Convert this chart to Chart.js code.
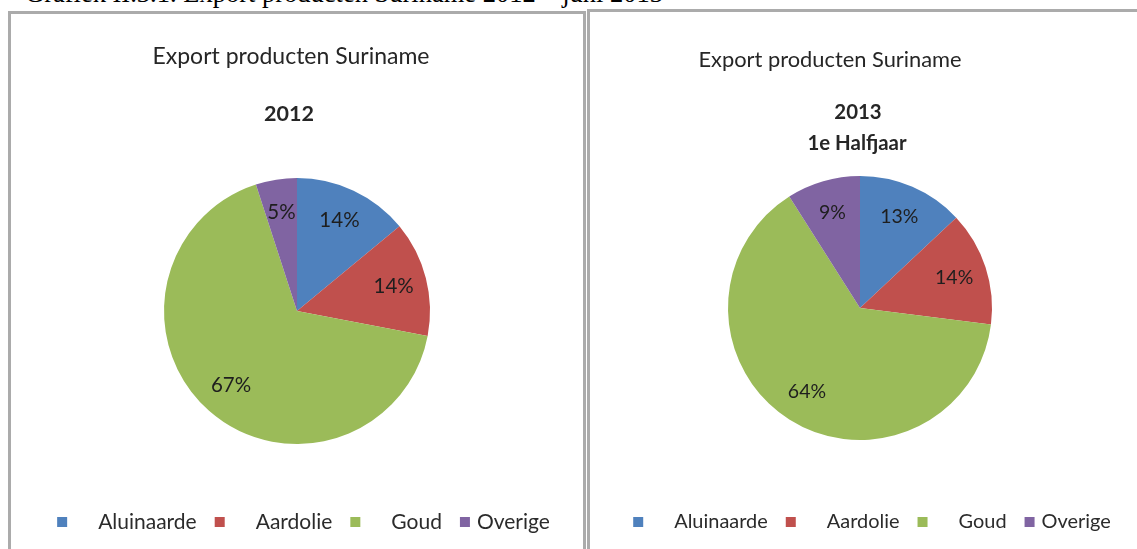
<!DOCTYPE html>
<html>
<head>
<meta charset="utf-8">
<script src="https://cdn.jsdelivr.net/npm/chart.js@4.4.1/dist/chart.umd.min.js"></script>
<style>
	body { margin: 0; background: #fff; overflow: hidden; width: 1137px; height: 549px; position: relative; }
	.caption { position: absolute; left: 25px; top: -22px; font: 26.5px "Liberation Serif", "Times New Roman", serif; color: #000; white-space: nowrap; }
	.panel { position: absolute; border: 3px solid #ababab; box-sizing: border-box; background: #fff; }
	#p1 { left: 8px; top: 11px; width: 578px; height: 560px; }
	#p2 { left: 587px; top: 9px; width: 560px; height: 560px; }
	.panel canvas { display: block; }
</style>
</head>
<body>
<div class="caption">Grafiek II.3.1. Export producten Suriname 2012 – juni 2013</div>
<div class="panel" id="p1"><canvas id="c1"></canvas></div>
<div class="panel" id="p2"><canvas id="c2"></canvas></div>
<script>
const categories = ['Aluinaarde', 'Aardolie', 'Goud', 'Overige'];
const values2012 = [14, 14, 67, 5];
const values2013 = [13, 14, 64, 9];
const colors = ['#4F81BD', '#C0504D', '#9BBB59', '#8064A2'];
const title2012 = ['Export producten Suriname', '2012'];
const title2013 = ['Export producten Suriname', '2013', '1e Halfjaar'];

const FONT = 'Lato, Carlito, Calibri, sans-serif';

// percent labels inside the slices
const sliceLabels = {
	id: 'sliceLabels',
	afterDatasetsDraw(chart, args, opts) {
		const ctx = chart.ctx;
		const data = chart.data.datasets[0].data;
		ctx.save();
		ctx.font = opts.size + 'px ' + FONT;
		ctx.fillStyle = '#1e1e1e';
		ctx.textAlign = 'center';
		ctx.textBaseline = 'middle';
		chart.getDatasetMeta(0).data.forEach((arc, i) => {
			const p = arc.getProps(['x', 'y', 'startAngle', 'endAngle', 'outerRadius'], true);
			const mid = (p.startAngle + p.endAngle) / 2;
			const r = p.outerRadius * 0.75;
			ctx.fillText(data[i] + '%', p.x + Math.cos(mid) * r, p.y + Math.sin(mid) * r);
		});
		ctx.restore();
	}
};

// titles placed like the Excel originals
const panelTitles = {
	id: 'panelTitles',
	afterDraw(chart, args, opts) {
		const ctx = chart.ctx;
		ctx.save();
		ctx.fillStyle = '#262626';
		ctx.textAlign = 'center';
		ctx.textBaseline = 'middle';
		opts.lines.forEach((text, i) => {
			const pos = opts.pos[i];
			ctx.font = i === 0 ? opts.size + 'px ' + FONT : 'bold ' + opts.subSize + 'px ' + FONT;
			ctx.fillText(text, pos[0], pos[1]);
		});
		ctx.restore();
	}
};

// legend with the odd Excel spacing
const bottomLegend = {
	id: 'bottomLegend',
	afterDraw(chart, args, opts) {
		const ctx = chart.ctx;
		const labels = chart.data.labels;
		const bg = chart.data.datasets[0].backgroundColor;
		ctx.save();
		ctx.font = opts.size + 'px ' + FONT;
		ctx.textBaseline = 'middle';
		const box = 10;
		let total = 0;
		labels.forEach((l, i) => {
			total += box + opts.gaps[i] + ctx.measureText(l).width;
			if (i < labels.length - 1) total += opts.itemGap;
		});
		let x = chart.width / 2 + opts.shift - total / 2;
		const y = opts.y;
		labels.forEach((l, i) => {
			ctx.fillStyle = bg[i];
			ctx.fillRect(x, y - box / 2, box, box);
			x += box + opts.gaps[i];
			ctx.fillStyle = '#2b2b2b';
			ctx.fillText(l, x, y);
			x += ctx.measureText(l).width + opts.itemGap;
		});
		ctx.restore();
	}
};

function makePie(id, values, titleLines, titlePos, padding, legendY, k, shift) {
	return new Chart(document.getElementById(id), {
		type: 'pie',
		data: {
			labels: categories,
			datasets: [{
				data: values,
				backgroundColor: colors,
				borderWidth: 0,
			}],
		},
		options: {
			responsive: true,
			maintainAspectRatio: false,
			animation: false,
			layout: { padding },
			plugins: {
				legend: { display: false },
				tooltip: { enabled: false },
				sliceLabels: { size: 20.5 * k },
				panelTitles: { lines: titleLines, pos: titlePos, size: 23 * k, subSize: 21.5 * k },
				bottomLegend: { y: legendY, gaps: [31, 31, 31, 7], itemGap: 18, shift, size: 21 * k },
			},
		},
		plugins: [sliceLabels, panelTitles, bottomLegend],
	});
}

makePie('c1', values2012, title2012, [[280, 43], [278, 100]],
	{ top: 164, bottom: 124, left: 0, right: 0 }, 508, 1, 6.5);
makePie('c2', values2013, title2013, [[240, 48], [268, 100], [267, 131]],
	{ top: 164, bottom: 126, left: 0, right: 14 }, 510, 0.95, 5);
</script>
</body>
</html>
